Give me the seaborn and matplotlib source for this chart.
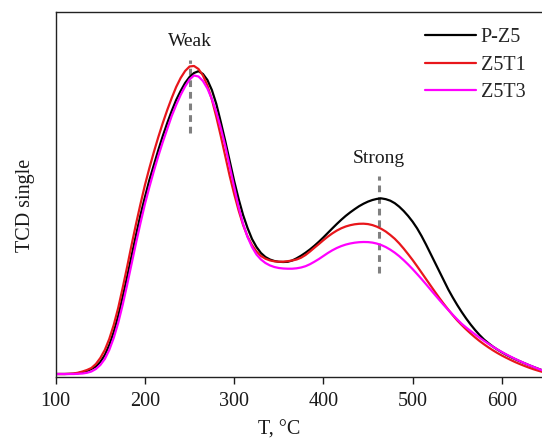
import numpy as np
import pandas as pd
import matplotlib
matplotlib.use("Agg")
import matplotlib.pyplot as plt
import seaborn as sns

# Temperature grid (°C), 5 °C steps from 100 to 645
temperature = np.arange(100, 650, 5)

# TCD signal (arbitrary units) for each catalyst
p_z5 = [3, 3, 3, 3.1, 3.2, 3.8, 4.8, 6, 8, 10.5,
        15, 22, 32, 45, 61, 80, 100, 121, 142, 162,
        180, 197, 212, 227, 241, 254, 266, 277, 286, 294,
        300, 304, 305.8, 303, 297, 287, 273, 255, 236, 216,
        196, 178, 162, 149, 138, 130, 124, 120, 117.5, 116,
        115.2, 115, 115.2, 116.5, 118.7, 121.3, 124.3, 127.6, 131.3, 135.3,
        139.6, 144.1, 148.6, 153, 157.2, 161.1, 164.6, 167.8, 170.8, 173.3,
        175.4, 177, 178.1, 178.6, 177.8, 176.3, 173.8, 170.3, 166, 161,
        155.3, 148.7, 141, 132.5, 123.5, 114.5, 105.5, 96.5, 87.5, 79.5,
        72, 65, 58.5, 52.5, 47, 42, 37.5, 33.8, 30.4, 27.4,
        24.7, 22.2, 19.9, 17.8, 15.8, 13.9, 12, 10.2, 8.5, 6.8]

z5t1 = [3, 3, 3, 3.2, 3.5, 4.3, 5.5, 7, 9, 13,
        19, 27, 38, 52, 69, 89, 110, 132, 153, 173,
        192, 209, 225, 240, 254, 267, 279, 290, 299, 306,
        310.5, 311, 308, 301.5, 291.5, 277.5, 260, 241, 221, 201,
        183, 166.5, 152, 140.5, 132, 125.5, 121, 118.3, 116.6, 115.7,
        115.3, 115.3, 115.8, 116.5, 117.5, 119.3, 122, 125.5, 129.3, 133,
        136.8, 140.4, 143.6, 146.4, 148.7, 150.5, 151.8, 152.7, 153.2, 153.3,
        152.9, 151.9, 150.3, 148.1, 145.4, 142, 138.2, 133.6, 128.4, 122.8,
        117, 110.8, 104.4, 98, 91.6, 85.2, 79, 73, 67.3, 61.8,
        56.6, 52, 47.6, 43.5, 39.6, 36, 32.7, 29.6, 26.7, 24,
        21.5, 19.2, 17, 14.9, 13, 11.2, 9.5, 7.9, 6.5, 5.2]

z5t3 = [3, 3, 3, 3, 3, 3.2, 3.5, 4.2, 5.5, 8,
        12, 18, 27, 39, 54, 72, 92, 113, 134, 154,
        173, 190, 206, 221, 235, 248, 261, 272, 282, 290.5,
        297.5, 301.5, 300.5, 296, 288.5, 278, 265, 249, 231, 210.5,
        190, 170, 153, 140, 130, 122.5, 117.5, 114, 111.6, 110,
        109, 108.5, 108.3, 108.3, 108.7, 109.5, 110.8, 112.8, 115.3, 118,
        121, 124, 126.7, 129, 130.9, 132.4, 133.5, 134.3, 134.8, 135,
        134.9, 134.4, 133.4, 131.9, 129.9, 127.3, 124.3, 120.8, 116.8, 112.5,
        107.9, 103, 98, 92.8, 87.5, 82.2, 77, 71.9, 67, 62.2,
        57.6, 53.2, 49.5, 46, 42.6, 39.3, 36.2, 33.2, 30.3, 27.6,
        25, 22.6, 20.3, 18.1, 16, 14, 12.1, 10.3, 8.5, 6.8]

series_names = ["P-Z5", "Z5T1", "Z5T3"]
series_colors = ["#000000", "#e8161b", "#ff00ff"]

# Peak markers: (label, temperature, dash bottom, dash top, label height)
peaks = [("Weak", 251, 244, 317, 335),
         ("Strong", 462, 104, 201, 218)]

df = pd.concat([
    pd.DataFrame({"T": temperature, "signal": vals, "sample": name})
    for name, vals in zip(series_names, [p_z5, z5t1, z5t3])
])

sns.set_theme(style="white")
plt.rcParams["font.family"] = ["Liberation Serif", "DejaVu Serif"]

fig = plt.figure(figsize=(5.42, 4.44), dpi=100)
ax = fig.add_axes([0.1028, 0.1509, 0.8972, 0.8221])

sns.lineplot(data=df, x="T", y="signal", hue="sample", hue_order=series_names,
             palette=series_colors, linewidth=1.6, ax=ax, sort=False)

for label, t, y0, y1, ytxt in peaks:
    ax.plot([t, t], [y0, y1], color="#808080", linewidth=2.2,
            linestyle=(0, (2.2, 1.6)), zorder=1)
    ax.text(t, ytxt, label, ha="center", va="center", fontsize=14, color="#1a1a1a")

ax.set_xlim(100, 645)
ax.set_ylim(0, 365)
ax.set_xticks([100, 200, 300, 400, 500, 600])
ax.set_yticks([])
ax.tick_params(axis="x", direction="out", length=5, width=1, labelsize=14.5,
               bottom=True, pad=6, colors="#1a1a1a")
for side in ["left", "bottom", "top"]:
    ax.spines[side].set_color("#222222")
    ax.spines[side].set_linewidth(1.0)
ax.spines["right"].set_visible(False)

ax.set_xlabel("T, °C", fontsize=14.5, color="#1a1a1a")
ax.set_ylabel("TCD single", fontsize=14.5, color="#1a1a1a")
ax.xaxis.set_label_coords(0.46, -0.12)
ax.yaxis.set_label_coords(-0.042, 0.47)

leg = ax.legend(loc="upper right", bbox_to_anchor=(0.991, 0.989), frameon=False,
                fontsize=14.5, handlelength=2.5, handletextpad=0.25,
                labelspacing=0.42, borderaxespad=0.2)
for line in leg.get_lines():
    line.set_linewidth(1.6)

fig.savefig("out.png", dpi=100)
